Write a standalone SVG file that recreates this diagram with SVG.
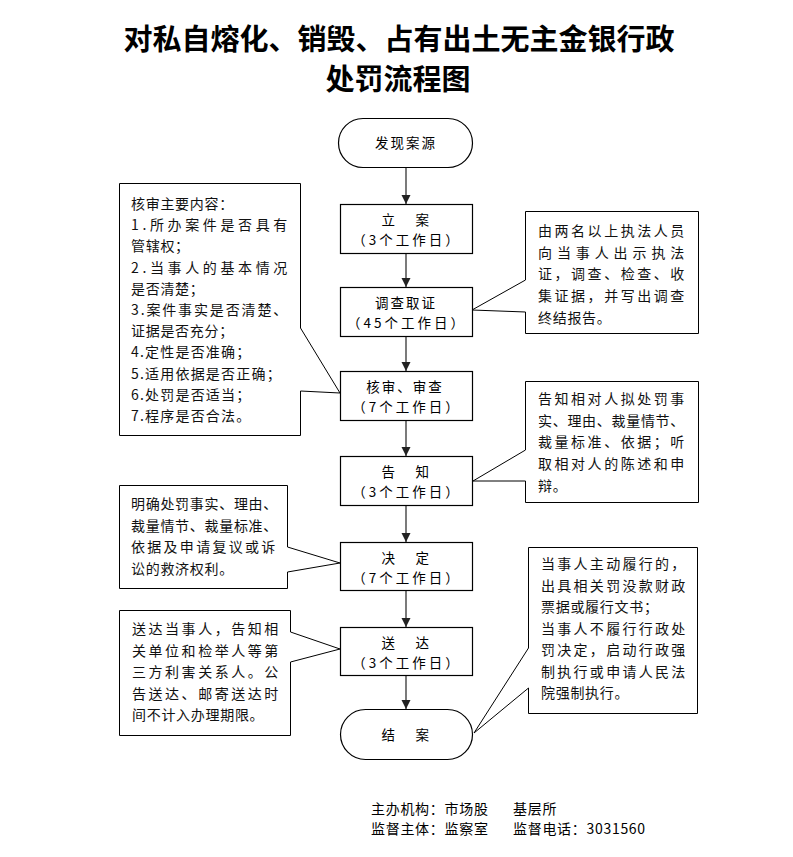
<svg xmlns="http://www.w3.org/2000/svg" width="793" height="857" viewBox="0 0 793 857">
<style>
text{font-family:"Noto Sans CJK SC","Liberation Sans",sans-serif;fill:#000;dominant-baseline:central}
.title{font-size:29px;font-weight:700;text-anchor:middle}
.n{font-size:13.5px;text-anchor:middle;letter-spacing:1px}
.d{font-size:13.5px;text-anchor:middle;letter-spacing:3px}
.c{font-size:14px;letter-spacing:0.7px;fill:#111}
.box{fill:#fff;stroke:#000;stroke-width:1.2}
.call{fill:#fff;stroke:#000;stroke-width:1}
.ft{font-size:14px;letter-spacing:0.7px}
</style>
<defs>
<marker id="ah" markerWidth="10" markerHeight="10" refX="9" refY="5" orient="auto" markerUnits="userSpaceOnUse">
<path d="M0,0.5 L9,5 L0,9.5 Z" fill="#222"/>
</marker>
</defs>
<rect width="793" height="857" fill="#fff"/>
<g id="title">
<text class="title" x="399" y="37">对私自熔化、销毁、占有出土无主金银行政</text>
<text class="title" x="398" y="77">处罚流程图</text>
</g>
<g id="note-review">
<polygon class="call" points="119.5,183.5 300.5,183.5 300.5,328 340,393 300.5,391 300.5,435.5 119.5,435.5"/>
<text class="c" x="131" y="203">核审主要内容：</text>
<text class="c" x="131" y="224.2" textLength="157" lengthAdjust="spacing">1.所办案件是否具有</text>
<text class="c" x="131" y="245.4">管辖权；</text>
<text class="c" x="131" y="266.6" textLength="157" lengthAdjust="spacing">2.当事人的基本情况</text>
<text class="c" x="131" y="287.8">是否清楚；</text>
<text class="c" x="131" y="309" textLength="157" lengthAdjust="spacing">3.案件事实是否清楚、</text>
<text class="c" x="131" y="330.2">证据是否充分；</text>
<text class="c" x="131" y="351.4" style="letter-spacing:1.2px">4.定性是否准确；</text>
<text class="c" x="131" y="372.6" style="letter-spacing:1.2px">5.适用依据是否正确；</text>
<text class="c" x="131" y="393.8" style="letter-spacing:1.2px">6.处罚是否适当；</text>
<text class="c" x="131" y="415" style="letter-spacing:1.2px">7.程序是否合法。</text>
</g>
<g id="note-investigate">
<polygon class="call" points="525.5,211.5 698.5,211.5 698.5,333.5 525.5,333.5 525.5,312 472,310 525.5,280"/>
<text class="c" x="538" y="230" textLength="147" lengthAdjust="spacing">由两名以上执法人员</text>
<text class="c" x="538" y="251.7" textLength="147" lengthAdjust="spacing">向当事人出示执法</text>
<text class="c" x="538" y="273.4" textLength="147" lengthAdjust="spacing">证，调查、检查、收</text>
<text class="c" x="538" y="295.1" textLength="147" lengthAdjust="spacing">集证据，并写出调查</text>
<text class="c" x="538" y="316.8">终结报告。</text>
</g>
<g id="note-inform">
<polygon class="call" points="525.5,381.5 698.5,381.5 698.5,502.5 525.5,502.5 525.5,481 473,481 525.5,450"/>
<text class="c" x="538" y="398" textLength="147" lengthAdjust="spacing">告知相对人拟处罚事</text>
<text class="c" x="538" y="419.7">实、理由、裁量情节、</text>
<text class="c" x="538" y="441.4" textLength="147" lengthAdjust="spacing">裁量标准、依据；听</text>
<text class="c" x="538" y="463.1" textLength="147" lengthAdjust="spacing">取相对人的陈述和申</text>
<text class="c" x="538" y="484.8">辩。</text>
</g>
<g id="note-decide">
<polygon class="call" points="119.5,485.5 287.5,485.5 287.5,547 340,563 287.5,572 287.5,588.5 119.5,588.5"/>
<text class="c" x="131" y="503">明确处罚事实、理由、</text>
<text class="c" x="131" y="524.7">裁量情节、裁量标准、</text>
<text class="c" x="131" y="546.4" textLength="145" lengthAdjust="spacing">依据及申请复议或诉</text>
<text class="c" x="131" y="568.1">讼的救济权利。</text>
</g>
<g id="note-deliver">
<polygon class="call" points="119.5,610.5 290.5,610.5 290.5,632 340,649 290.5,662 290.5,735.5 119.5,735.5"/>
<text class="c" x="132" y="628" textLength="147" lengthAdjust="spacing">送达当事人，告知相</text>
<text class="c" x="132" y="649.5" textLength="147" lengthAdjust="spacing">关单位和检举人等第</text>
<text class="c" x="132" y="671" textLength="147" lengthAdjust="spacing">三方利害关系人。公</text>
<text class="c" x="132" y="692.5" textLength="147" lengthAdjust="spacing">告送达、邮寄送达时</text>
<text class="c" x="132" y="714">间不计入办理期限。</text>
</g>
<g id="note-close">
<polygon class="call" points="528.5,547.5 697.5,547.5 697.5,713.5 528.5,713.5 528.5,688 474,733 528.5,648"/>
<text class="c" x="541" y="563" textLength="145" lengthAdjust="spacing">当事人主动履行的，</text>
<text class="c" x="541" y="584.5" textLength="145" lengthAdjust="spacing">出具相关罚没款财政</text>
<text class="c" x="541" y="606">票据或履行文书；</text>
<text class="c" x="541" y="627.5" textLength="145" lengthAdjust="spacing">当事人不履行行政处</text>
<text class="c" x="541" y="649" textLength="145" lengthAdjust="spacing">罚决定，启动行政强</text>
<text class="c" x="541" y="670.5" textLength="145" lengthAdjust="spacing">制执行或申请人民法</text>
<text class="c" x="541" y="692">院强制执行。</text>
</g>
<g id="connectors" stroke="#333" stroke-width="1.3" fill="none">
<line x1="406" y1="167" x2="406" y2="204" marker-end="url(#ah)"/>
<line x1="406" y1="253" x2="406" y2="287" marker-end="url(#ah)"/>
<line x1="406" y1="336" x2="406" y2="371" marker-end="url(#ah)"/>
<line x1="406" y1="420" x2="406" y2="456" marker-end="url(#ah)"/>
<line x1="406" y1="505" x2="406" y2="542" marker-end="url(#ah)"/>
<line x1="406" y1="590" x2="406" y2="627" marker-end="url(#ah)"/>
<line x1="406" y1="675" x2="406" y2="709" marker-end="url(#ah)"/>
</g>
<g id="n-source">
<rect class="box" x="338.5" y="118.5" width="134" height="49" rx="24.5"/>
<text class="n" x="406" y="142" style="letter-spacing:2px">发现案源</text>
</g>
<g id="n-file">
<rect class="box" x="340.5" y="204.5" width="132" height="49"/>
<text class="n" x="407" y="219" style="letter-spacing:3.5px">立　案</text>
<text class="d" x="407" y="239">（3个工作日）</text>
</g>
<g id="n-investigate">
<rect class="box" x="340.5" y="287.5" width="132" height="49"/>
<text class="n" x="406" y="302" style="letter-spacing:2px">调查取证</text>
<text class="d" x="407" y="322">（45个工作日）</text>
</g>
<g id="n-review">
<rect class="box" x="340.5" y="371.5" width="132" height="49"/>
<text class="n" x="405" y="386" style="letter-spacing:2px">核审、审查</text>
<text class="d" x="407" y="406">（7个工作日）</text>
</g>
<g id="n-inform">
<rect class="box" x="340.5" y="456.5" width="132" height="49"/>
<text class="n" x="407" y="471" style="letter-spacing:3.5px">告　知</text>
<text class="d" x="407" y="491">（3个工作日）</text>
</g>
<g id="n-decide">
<rect class="box" x="340.5" y="542.5" width="132" height="48"/>
<text class="n" x="407" y="556.5" style="letter-spacing:3.5px">决　定</text>
<text class="d" x="407" y="576.5">（7个工作日）</text>
</g>
<g id="n-deliver">
<rect class="box" x="340.5" y="627.5" width="132" height="48"/>
<text class="n" x="407" y="641.5" style="letter-spacing:3.5px">送　达</text>
<text class="d" x="407" y="661.5">（3个工作日）</text>
</g>
<g id="n-close">
<rect class="box" x="340.5" y="709.5" width="132" height="50" rx="25"/>
<text class="n" x="407" y="734" style="letter-spacing:3.5px">结　案</text>
</g>
<g id="footer">
<text class="ft" x="371" y="808">主办机构：市场股</text>
<text class="ft" x="513" y="808">基层所</text>
<text class="ft" x="371" y="828">监督主体：监察室</text>
<text class="ft" x="513" y="828">监督电话：3031560</text>
</g>
</svg>
